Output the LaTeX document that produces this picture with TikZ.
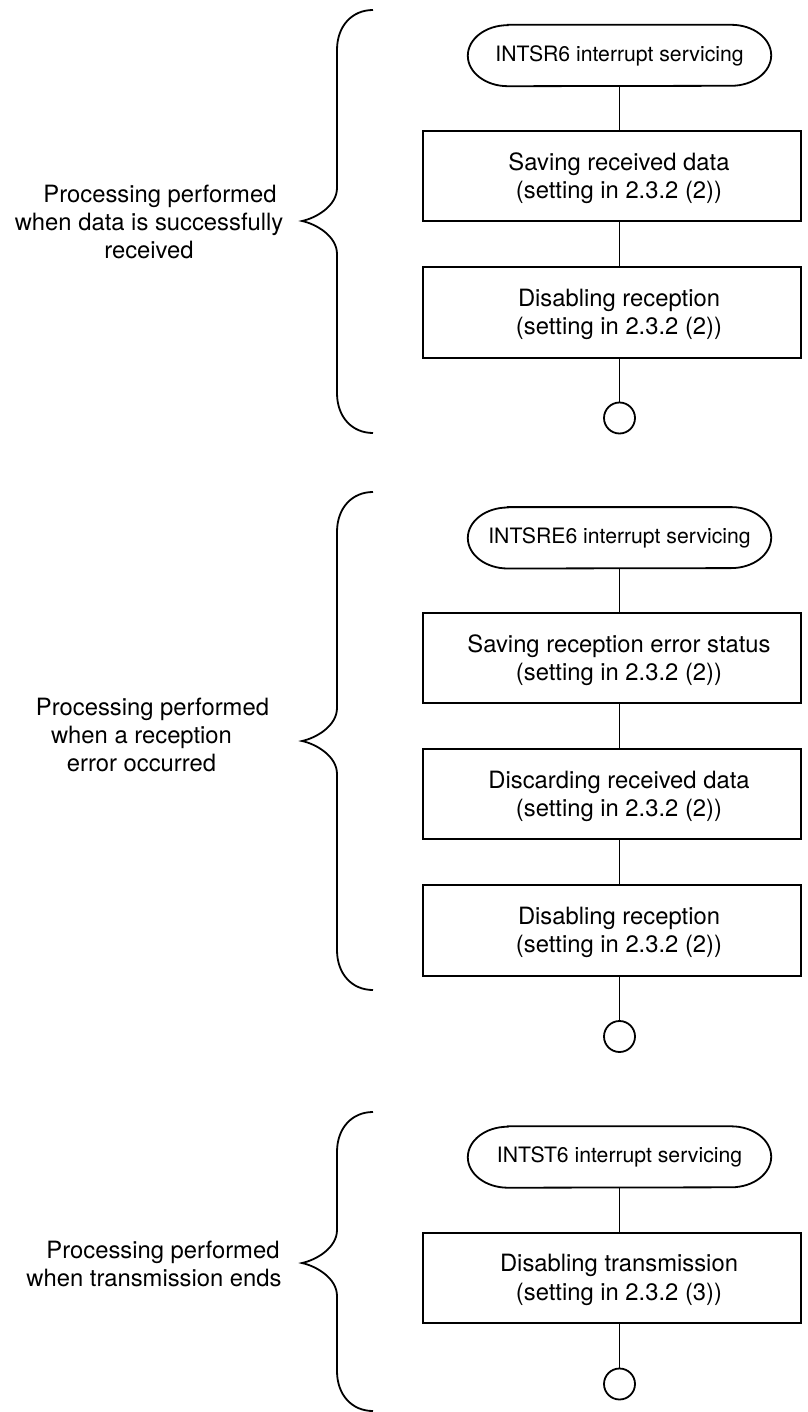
\documentclass[tikz,border=0pt]{standalone}
\usepackage{fontspec}
\setmainfont{TeX Gyre Heros}
\begin{document}
\begin{tikzpicture}[x=1pt,y=1pt,
  line/.style={line width=1.8pt, black},
  terminal/.style={minimum width=303pt, minimum height=61pt, inner sep=0pt, font=\fontsize{21.2}{25}\selectfont},
  stepbox/.style={draw, line width=1.8pt, minimum width=378pt, minimum height=90pt, inner sep=0pt},
  boxtext/.style={align=center, inner sep=0pt, yshift=-2pt, font=\fontsize{23.8}{28.3}\selectfont},
  sidelabel/.style={align=center, inner sep=0pt, font=\fontsize{23.8}{28}\selectfont},
  endcircle/.style={draw, line width=1.8pt, circle, minimum size=31pt, inner sep=0pt}
]
\useasboundingbox (0,0) rectangle (807,-1412);

\newcommand{\drawstadium}[1]{%
  \draw[line] ([xshift=40pt]#1.north west) -- ([xshift=-40pt]#1.north east)
    arc[start angle=90, end angle=-90, x radius=40pt, y radius=30.5pt]
    -- ([xshift=40pt]#1.south west)
    arc[start angle=270, end angle=90, x radius=40pt, y radius=30.5pt] -- cycle;}
\newcommand{\curlybrace}[3]{%
  \draw[line] (373,-#1) .. controls (352,-#1) and (337,-#1-16) .. (337,-#1-40)
    -- (337,-#2+33) .. controls (337,-#2+15) and (316,-#2+3) .. (302,-#2)
    .. controls (316,-#2-3) and (337,-#2-15) .. (337,-#2-33)
    -- (337,-#3+40) .. controls (337,-#3+16) and (352,-#3) .. (373,-#3);}

% ---------- Section 1 ----------
\node[terminal] (t1) at (619.5,-55.5) {INTSR6 interrupt servicing};
\drawstadium{t1}
\node[stepbox] (b1) at (612,-176) {};
\node[boxtext] (b1t) at (619,-176) {Saving received data\\(setting in 2.3.2 (2))};
\node[stepbox, minimum height=91pt] (b2) at (612,-312.5) {};
\node[boxtext] (b2t) at (619,-312.5) {Disabling reception\\(setting in 2.3.2 (2))};
\node[endcircle] (c1) at (619.5,-418) {};
\draw[line] (t1.south) -- (t1.south |- b1.north);
\draw[line] (t1.south |- b1.south) -- (t1.south |- b2.north);
\draw[line] (t1.south |- b2.south) -- (c1.north);
\curlybrace{10}{221}{433}
\node[sidelabel] (l1) at (149,-222) {\hspace*{22pt}Processing performed\\when data is successfully\\received};

% ---------- Section 2 ----------
\node[terminal] (t2) at (619.5,-537.8) {INTSRE6 interrupt servicing};
\drawstadium{t2}
\node[stepbox] (b3) at (612,-658.3) {};
\node[boxtext] (b3t) at (619,-658.3) {Saving reception error status\\(setting in 2.3.2 (2))};
\node[stepbox] (b4) at (612,-794.2) {};
\node[boxtext] (b4t) at (619,-794.2) {Discarding received data\\(setting in 2.3.2 (2))};
\node[stepbox, minimum height=91pt] (b5) at (612,-930.5) {};
\node[boxtext] (b5t) at (619,-930.5) {Disabling reception\\(setting in 2.3.2 (2))};
\node[endcircle] (c2) at (619.5,-1036.5) {};
\draw[line] (t2.south) -- (t2.south |- b3.north);
\draw[line] (t2.south |- b3.south) -- (t2.south |- b4.north);
\draw[line] (t2.south |- b4.south) -- (t2.south |- b5.north);
\draw[line] (t2.south |- b5.south) -- (c2.north);
\curlybrace{492}{741}{990}
\node[sidelabel] (l2) at (141.5,-735) {\hspace*{22pt}Processing performed\\when a reception\\error occurred};

% ---------- Section 3 ----------
\node[terminal] (t3) at (619.5,-1157) {INTST6 interrupt servicing};
\drawstadium{t3}
\node[stepbox] (b6) at (612,-1278) {};
\node[boxtext] (b6t) at (619,-1278) {Disabling transmission\\(setting in 2.3.2 (3))};
\node[endcircle] (c3) at (619.5,-1384) {};
\draw[line] (t3.south) -- (t3.south |- b6.north);
\draw[line] (t3.south |- b6.south) -- (c3.north);
\curlybrace{1112}{1263}{1411}
\node[sidelabel] (l3) at (154,-1264) {\hspace*{18pt}Processing performed\\when transmission ends};
\end{tikzpicture}
\end{document}
